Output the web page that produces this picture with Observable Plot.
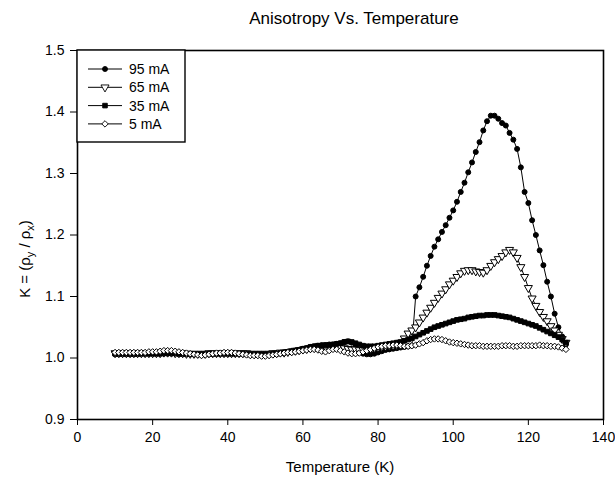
<!DOCTYPE html>
<html><head><meta charset="utf-8">
<script src="https://cdn.jsdelivr.net/npm/d3@7"></script>
<script src="https://cdn.jsdelivr.net/npm/@observablehq/plot@0.6"></script>
<style>body{margin:0;background:#fff;}</style>
</head><body><div id="chart"></div>
<script>
// Temperatures (K) of the readings, 10..130 K in 1 K steps
const temps = d3.range(10, 131);

const k95 = [
1.006,1.006,1.006,1.006,1.006,1.006,1.006,1.007,1.007,1.007,1.007,
1.007,1.007,1.007,1.007,1.007,1.007,1.006,1.006,1.006,1.006,
1.006,1.006,1.006,1.006,1.006,1.006,1.007,1.007,1.007,1.007,
1.007,1.007,1.007,1.007,1.007,1.006,1.006,1.006,1.006,1.006,
1.006,1.007,1.007,1.008,1.008,1.009,1.010,1.011,1.013,1.015,
1.016,1.018,1.019,1.020,1.021,1.021,1.022,1.022,1.023,1.024,
1.026,1.027,1.025,1.018,1.010,1.007,1.006,1.006,1.007,1.009,
1.011,1.013,1.014,1.015,1.016,1.017,1.018,1.019,1.020,1.100,
1.115,1.132,1.150,1.166,1.181,1.193,1.205,1.216,1.228,1.240,
1.254,1.270,1.285,1.302,1.318,1.335,1.351,1.370,1.385,1.394,
1.394,1.389,1.382,1.378,1.366,1.355,1.340,1.310,1.270,1.252,
1.224,1.200,1.175,1.151,1.124,1.100,1.072,1.050,1.035,1.022];

const k65 = [
1.008,1.008,1.008,1.008,1.008,1.008,1.008,1.008,1.008,1.008,1.008,
1.008,1.008,1.009,1.009,1.009,1.008,1.008,1.008,1.007,1.007,
1.007,1.007,1.007,1.007,1.008,1.008,1.008,1.008,1.008,1.008,
1.008,1.008,1.008,1.008,1.008,1.007,1.007,1.007,1.007,1.007,
1.007,1.008,1.008,1.009,1.009,1.010,1.011,1.012,1.013,1.014,
1.015,1.016,1.017,1.018,1.018,1.019,1.019,1.019,1.018,1.017,
1.016,1.015,1.014,1.014,1.013,1.013,1.014,1.015,1.016,1.017,
1.018,1.019,1.020,1.020,1.021,1.025,1.032,1.040,1.045,1.050,
1.058,1.066,1.074,1.082,1.090,1.098,1.105,1.112,1.120,1.126,
1.132,1.138,1.142,1.143,1.143,1.141,1.140,1.139,1.143,1.150,
1.156,1.161,1.166,1.172,1.176,1.172,1.163,1.148,1.132,1.114,
1.097,1.085,1.075,1.067,1.060,1.052,1.045,1.038,1.031,1.025];

const k35 = [
1.007,1.007,1.007,1.007,1.007,1.007,1.007,1.007,1.007,1.007,1.007,
1.007,1.007,1.008,1.008,1.008,1.008,1.007,1.007,1.007,1.007,
1.006,1.006,1.006,1.006,1.007,1.007,1.007,1.007,1.007,1.007,
1.007,1.007,1.007,1.007,1.006,1.006,1.006,1.006,1.006,1.006,
1.006,1.007,1.007,1.008,1.009,1.010,1.011,1.012,1.013,1.015,
1.016,1.018,1.019,1.020,1.020,1.021,1.021,1.022,1.023,1.024,
1.026,1.027,1.026,1.024,1.022,1.020,1.019,1.019,1.019,1.020,
1.021,1.022,1.023,1.024,1.025,1.026,1.028,1.030,1.032,1.035,
1.038,1.041,1.044,1.047,1.050,1.052,1.054,1.056,1.058,1.060,
1.062,1.063,1.064,1.066,1.067,1.068,1.069,1.069,1.070,1.070,
1.070,1.069,1.068,1.067,1.066,1.064,1.062,1.060,1.058,1.056,
1.054,1.052,1.049,1.046,1.043,1.040,1.037,1.034,1.030,1.025];

const k5 = [
1.009,1.009,1.009,1.009,1.009,1.009,1.009,1.009,1.009,1.010,1.010,
1.010,1.011,1.012,1.012,1.012,1.011,1.010,1.009,1.008,1.007,
1.006,1.005,1.004,1.005,1.006,1.007,1.008,1.008,1.009,1.009,
1.009,1.008,1.007,1.006,1.005,1.004,1.004,1.004,1.003,1.003,
1.004,1.005,1.006,1.007,1.008,1.009,1.009,1.010,1.011,1.012,
1.013,1.014,1.014,1.013,1.011,1.010,1.012,1.014,1.014,1.012,
1.010,1.008,1.007,1.007,1.008,1.010,1.012,1.014,1.016,1.018,
1.019,1.020,1.020,1.021,1.021,1.020,1.019,1.019,1.020,1.021,
1.023,1.025,1.028,1.030,1.031,1.031,1.030,1.028,1.026,1.025,
1.024,1.023,1.022,1.021,1.020,1.020,1.020,1.019,1.019,1.019,
1.019,1.019,1.020,1.020,1.020,1.019,1.019,1.020,1.020,1.020,
1.020,1.020,1.021,1.020,1.020,1.019,1.019,1.018,1.016,1.014];

const seriesNames = ["95 mA", "65 mA", "35 mA", "5 mA"];
const seriesValues = [k95, k65, k35, k5];
const xTicks = [0, 20, 40, 60, 80, 100, 120, 140];
const yTicks = [0.9, 1.0, 1.1, 1.2, 1.3, 1.4, 1.5];
const titleText = "Anisotropy Vs. Temperature";
const xLabel = "Temperature (K)";

const styles = [
  {symbol: "circle", fill: "black", r: 2.5, rotate: 0},
  {symbol: "triangle", fill: "white", r: 3.0, rotate: 180},
  {symbol: "square", fill: "black", r: 2.6, rotate: 0},
  {symbol: "diamond2", fill: "white", r: 2.9, rotate: 0}
];

const W = 615, H = 484;
const mL = 77, mR = 12, mT = 50, mB = 65;
const font = "'Liberation Sans', Arial, Helvetica, sans-serif";

const marks = [];
seriesNames.forEach((name, si) => {
  const data = temps.map((t, i) => ({T: t, K: seriesValues[si][i]}));
  const st = styles[si];
  marks.push(Plot.line(data, {x: "T", y: "K", stroke: "black", strokeWidth: 1}));
  marks.push(Plot.dot(data, {x: "T", y: "K", symbol: st.symbol, r: st.r, fill: st.fill,
    stroke: "black", strokeWidth: 1, rotate: st.rotate}));
});

const chart = Plot.plot({
  width: W, height: H,
  marginLeft: mL, marginRight: mR, marginTop: mT, marginBottom: mB,
  style: {fontFamily: font, background: "white", color: "black"},
  x: {domain: [0, 140]},
  y: {domain: [0.9, 1.5]},
  marks: [
    ...marks,
    Plot.frame({stroke: "black", strokeWidth: 1.6}),
    Plot.axisX({ticks: xTicks, tickSize: 6, tickPadding: 7, fontSize: 14, label: null, tickFormat: d => String(d)}),
    Plot.axisY({ticks: yTicks, tickSize: 7, tickPadding: 6, fontSize: 14, label: null, tickFormat: d3.format(".1f")})
  ]
});
document.getElementById("chart").appendChild(chart);

const svg = d3.select(chart);
// title
svg.append("text").attr("x", 354).attr("y", 24).attr("text-anchor", "middle")
  .attr("font-family", font).attr("font-size", 17).style("fill", "black").text(titleText);
// x label
svg.append("text").attr("x", (mL + W - mR) / 2).attr("y", 472).attr("text-anchor", "middle")
  .attr("font-family", font).attr("font-size", 15).style("fill", "black").text(xLabel);
// y label
const yl = svg.append("text").attr("transform", "translate(30,259) rotate(-90)")
  .attr("text-anchor", "middle").attr("font-family", font).attr("font-size", 15).style("fill", "black");
yl.append("tspan").text("K = (\u03C1");
yl.append("tspan").attr("font-size", 11).attr("dy", 4).text("y");
yl.append("tspan").attr("dy", -4).text(" / \u03C1");
yl.append("tspan").attr("font-size", 11).attr("dy", 4).text("x");
yl.append("tspan").attr("dy", -4).text(")");

// legend
const lg = svg.append("g").attr("transform", `translate(${mL},${mT})`);
lg.append("rect").attr("x", 0).attr("y", 0).attr("width", 108).attr("height", 92)
  .attr("fill", "white").attr("stroke", "black").attr("stroke-width", 1.4);
const symMap = {circle: d3.symbolCircle, triangle: d3.symbolTriangle, square: d3.symbolSquare, diamond2: d3.symbolDiamond2};
seriesNames.forEach((name, i) => {
  const y = 19 + i * 18.3;
  const st = styles[i];
  lg.append("line").attr("x1", 11).attr("x2", 45).attr("y1", y).attr("y2", y)
    .attr("stroke", "black").attr("stroke-width", 1);
  lg.append("path").attr("d", d3.symbol().type(symMap[st.symbol]).size(Math.PI * st.r * st.r)())
    .attr("transform", `translate(28,${y}) rotate(${st.rotate})`)
    .attr("fill", st.fill).attr("stroke", "black").attr("stroke-width", 0.9);
  lg.append("text").attr("x", 52).attr("y", y + 5).attr("text-anchor", "start")
    .attr("font-family", font).attr("font-size", 14).style("fill", "black").text(name);
});
</script>
</body></html>
